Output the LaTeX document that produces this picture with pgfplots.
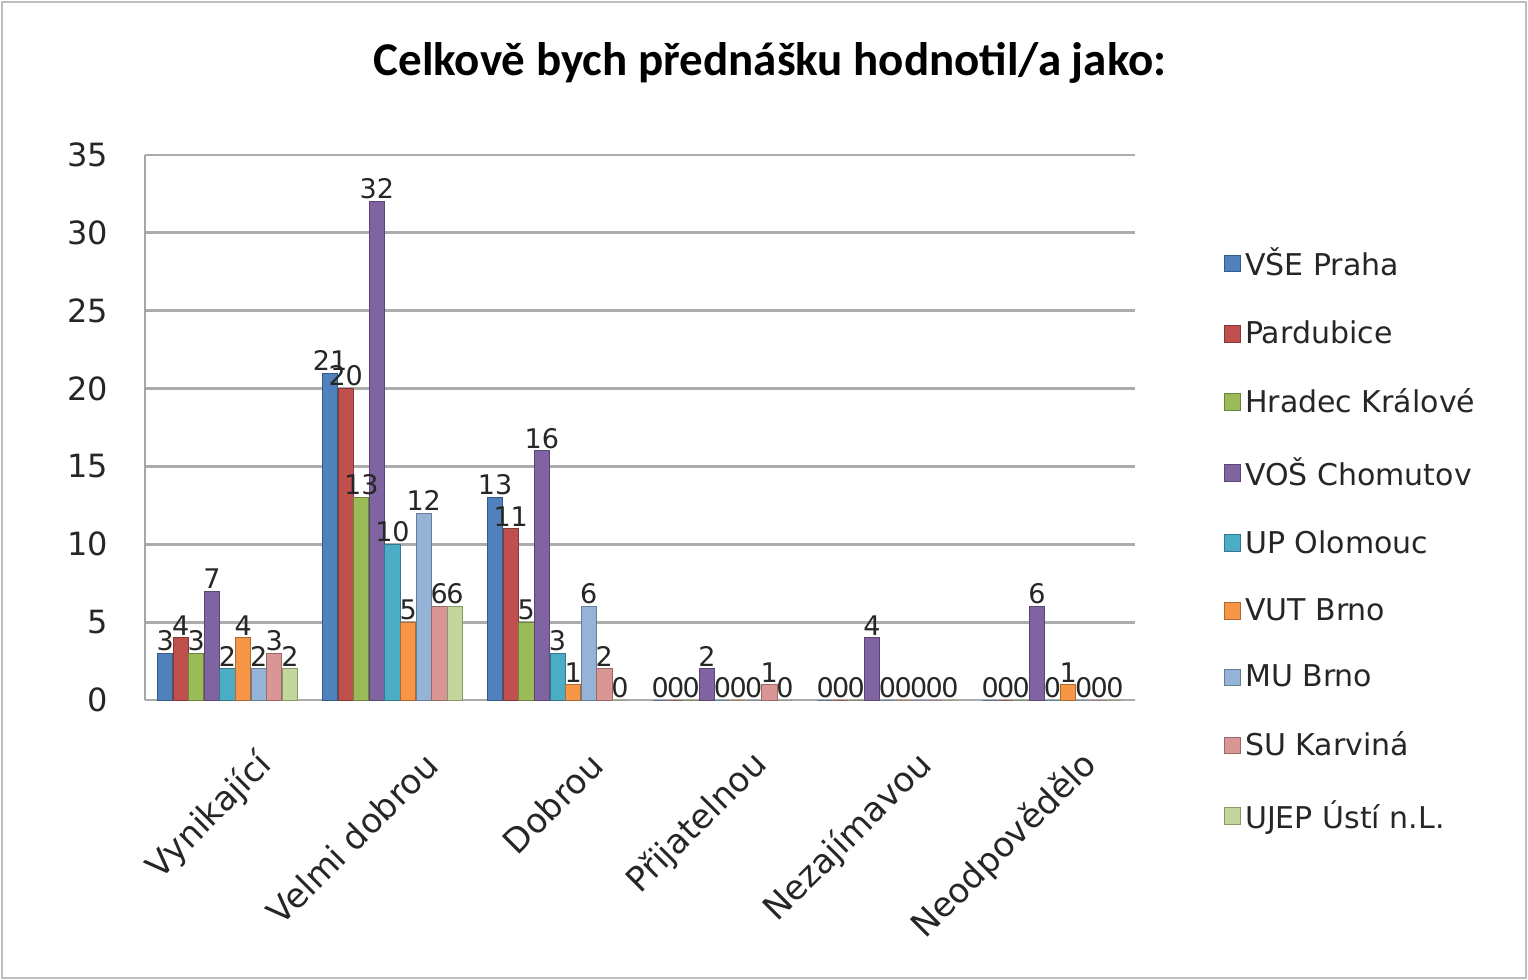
\documentclass[border=0pt]{standalone}
\usepackage{pgfplots}
\pgfplotsset{compat=1.18}
\usepackage{fontspec}
\setmainfont{DejaVu Sans}
\newfontfamily\titlefont{Carlito}
\definecolor{c1}{HTML}{4F81BD}
\definecolor{c2}{HTML}{C0504D}
\definecolor{c3}{HTML}{9BBB59}
\definecolor{c4}{HTML}{8064A2}
\definecolor{c5}{HTML}{4BACC6}
\definecolor{c6}{HTML}{F79646}
\definecolor{c7}{HTML}{95B3D7}
\definecolor{c8}{HTML}{D99694}
\definecolor{c9}{HTML}{C3D69B}
\begin{document}
\begin{tikzpicture}
\path (-72.5pt,-140pt) rectangle (691.5pt,350pt);
\draw[gray!50, line width=1pt] (-71.5pt,-139pt) rectangle (690.5pt,349pt);
\begin{axis}[
  at={(0pt,0pt)}, anchor=south west,
  scale only axis, width=495pt, height=272.5pt,
  xmin=-0.5, xmax=5.5, ymin=0, ymax=35,
  ytick={0,5,...,35},
  xtick={0,1,2,3,4,5},
  xticklabels={Vynikající,Velmi dobrou,Dobrou,Přijatelnou,Nezajímavou,Neodpovědělo},
  xticklabel style={rotate=45, anchor=east, font=\fontsize{17}{19}\selectfont, text=black!85, xshift=-1pt, yshift=-32pt},
  yticklabel style={font=\fontsize{16}{18}\selectfont, text=black!85, xshift=-15pt},
  /pgf/number format/assume math mode=true,
  ymajorgrids, major grid style={gray!65, line width=1.4pt},
  axis x line*=bottom, axis y line*=left,
  axis line style={gray!70, line width=1pt},
  x axis line style={gray!65, line width=1.4pt},
  xtick style={draw=none}, ytick style={gray!70},
  major tick length=4pt,
  ybar, bar width=7.6pt,
  nodes near coords,
  every node near coord/.append style={font=\fontsize{13.5}{15}\selectfont, text=black!85, inner sep=1pt},
  legend style={at={(1.083,0.845)}, anchor=north west, draw=none, fill=none,
    font=\fontsize{15}{17}\selectfont, text=black!85, row sep=17pt},
  legend cell align=left,
  legend image code/.code={\fill[#1] (0pt,-4.2pt) rectangle (8.4pt,4.2pt);},
  title={\titlefont\bfseries\fontsize{23.5}{26}\selectfont Celkově bych přednášku hodnotil/a jako:},
  title style={yshift=26pt, xshift=65pt},
]
\addplot[fill=c1, draw=c1!70!black, bar shift=-31.2pt] coordinates {(0,3) (1,21) (2,13) (3,0) (4,0) (5,0)};
\addplot[fill=c2, draw=c2!70!black, bar shift=-23.4pt] coordinates {(0,4) (1,20) (2,11) (3,0) (4,0) (5,0)};
\addplot[fill=c3, draw=c3!70!black, bar shift=-15.6pt] coordinates {(0,3) (1,13) (2,5) (3,0) (4,0) (5,0)};
\addplot[fill=c4, draw=c4!70!black, bar shift=-7.8pt] coordinates {(0,7) (1,32) (2,16) (3,2) (4,4) (5,6)};
\addplot[fill=c5, draw=c5!70!black, bar shift=0pt] coordinates {(0,2) (1,10) (2,3) (3,0) (4,0) (5,0)};
\addplot[fill=c6, draw=c6!70!black, bar shift=7.8pt] coordinates {(0,4) (1,5) (2,1) (3,0) (4,0) (5,1)};
\addplot[fill=c7, draw=c7!70!black, bar shift=15.6pt] coordinates {(0,2) (1,12) (2,6) (3,0) (4,0) (5,0)};
\addplot[fill=c8, draw=c8!70!black, bar shift=23.4pt] coordinates {(0,3) (1,6) (2,2) (3,1) (4,0) (5,0)};
\addplot[fill=c9, draw=c9!70!black, bar shift=31.2pt] coordinates {(0,2) (1,6) (2,0) (3,0) (4,0) (5,0)};
\legend{VŠE Praha,Pardubice,Hradec Králové,VOŠ Chomutov,UP Olomouc,VUT Brno,MU Brno,SU Karviná,UJEP Ústí n.L.}
\end{axis}
\end{tikzpicture}
\end{document}
